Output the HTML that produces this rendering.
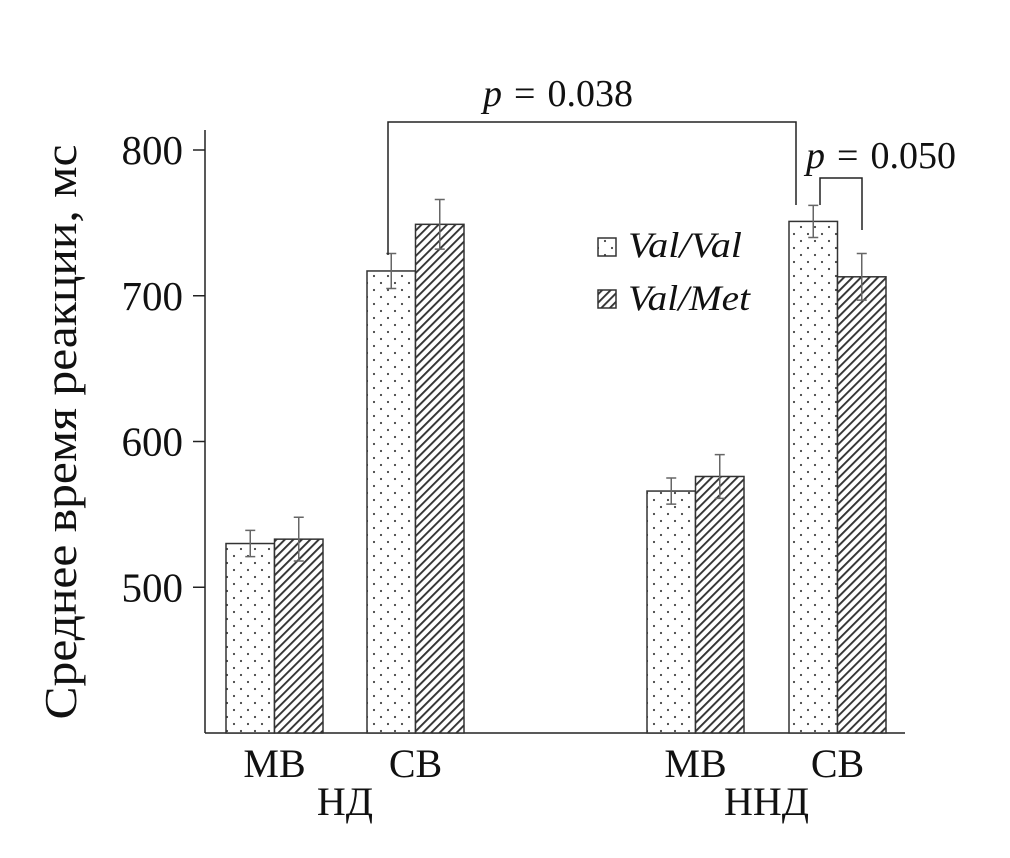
<!DOCTYPE html>
<html><head><meta charset="utf-8"><style>
html,body{margin:0;padding:0;background:#fff;}
svg text{font-family:"Liberation Serif",serif;fill:#111;}
</style></head><body>
<svg id="chart" width="1010" height="853" viewBox="0 0 1010 853" xmlns="http://www.w3.org/2000/svg">
<defs>
<pattern id="dots" width="14" height="14" patternUnits="userSpaceOnUse">
<rect width="14" height="14" fill="#fff"/><circle cx="3" cy="3" r="1.1" fill="#444"/><circle cx="10" cy="10" r="1.1" fill="#444"/>
</pattern>
<pattern id="hatch" width="6" height="6" patternUnits="userSpaceOnUse" patternTransform="rotate(45)">
<rect width="6" height="6" fill="#fff"/><rect width="1.9" height="6" fill="#333"/>
</pattern>
</defs>
<g id="plot"></g>
<text transform="translate(76,432) rotate(-90)" text-anchor="middle" font-size="46" textLength="575" lengthAdjust="spacingAndGlyphs">Среднее время реакции, мс</text>
<g>
<rect x="598" y="238" width="18" height="18" fill="url(#dots)" stroke="#333" stroke-width="1.5"/>
<text x="628" y="257" font-size="36" font-style="italic" textLength="114" lengthAdjust="spacingAndGlyphs">Val/Val</text>
<rect x="598" y="290" width="18" height="18" fill="url(#hatch)" stroke="#333" stroke-width="1.5"/>
<text x="628" y="310" font-size="36" font-style="italic" textLength="122" lengthAdjust="spacingAndGlyphs">Val/Met</text>
</g>
<g>
<polyline points="388,255 388,122 796,122 796,205" fill="none" stroke="#222" stroke-width="1.5"/>
<text x="483" y="106" font-size="38"><tspan font-style="italic">p</tspan><tspan dx="12">=</tspan><tspan dx="12">0.038</tspan></text>
</g>
<g>
<polyline points="820,205 820,178 862,178 862,230" fill="none" stroke="#222" stroke-width="1.5"/>
<text x="806" y="168" font-size="38"><tspan font-style="italic">p</tspan><tspan dx="12">=</tspan><tspan dx="12">0.050</tspan></text>
</g>
</svg>
<script>
const groups = ["НД","ННД"];
const conds = ["МВ","СВ"];
const valVal = [530, 717, 566, 751];
const valMet = [533, 749, 576, 713];
const errVV = [9, 12, 9, 11];
const errVM = [15, 17, 15, 16];
const yTicks = [500, 600, 700, 800];
const yMin = 400, yMax = 800;
const NS = "http://www.w3.org/2000/svg";
const g = document.getElementById("plot");
const y = v => 733 - (v - yMin) / (yMax - yMin) * (733 - 150);
const barW = 48.5;
const barX = i => [226, 367, 647, 789][i];
function el(t, a){const e=document.createElementNS(NS,t);for(const k in a)e.setAttribute(k,a[k]);g.appendChild(e);return e;}
let ax = el("line",{x1:205,y1:130,x2:205,y2:733,stroke:"#222","stroke-width":1.5});


let bx = el("line",{x1:205,y1:733,x2:905,y2:733,stroke:"#222","stroke-width":1.5});


yTicks.forEach(v=>{
  const t = el("line",{x1:193,x2:205,y1:y(v),y2:y(v),stroke:"#222","stroke-width":1.5});
  
  
  const l = el("text",{x:183,y:y(v)+14,"text-anchor":"end","font-size":41});
  l.textContent = v;
  
  
});
function bar(xl, v, e, fill, name){
  const r = el("rect",{x:xl,y:y(v),width:barW,height:733-y(v),fill:fill,stroke:"#333","stroke-width":1.5});
  
  
  const cx = xl + barW/2;
  const eb = el("path",{d:`M${cx},${y(v-e)}V${y(v+e)}M${cx-5},${y(v+e)}H${cx+5}M${cx-5},${y(v-e)}H${cx+5}`,stroke:"#666","stroke-width":1.5,fill:"none"});
  
  
}
for(let i=0;i<4;i++){
  bar(barX(i), valVal[i], errVV[i], "url(#dots)", "bar-val-val-"+i);
  bar(barX(i)+barW, valMet[i], errVM[i], "url(#hatch)", "bar-val-met-"+i);
  const l = el("text",{x:barX(i)+barW,y:777,"text-anchor":"middle","font-size":40});
  l.textContent = conds[i%2];
  
  
}
groups.forEach((gr,j)=>{
  const cx = (barX(2*j)+barX(2*j+1))/2 + barW;
  const l = el("text",{x:cx,y:815,"text-anchor":"middle","font-size":40});
  l.textContent = gr;
  
  
});
</script>
</body></html>
